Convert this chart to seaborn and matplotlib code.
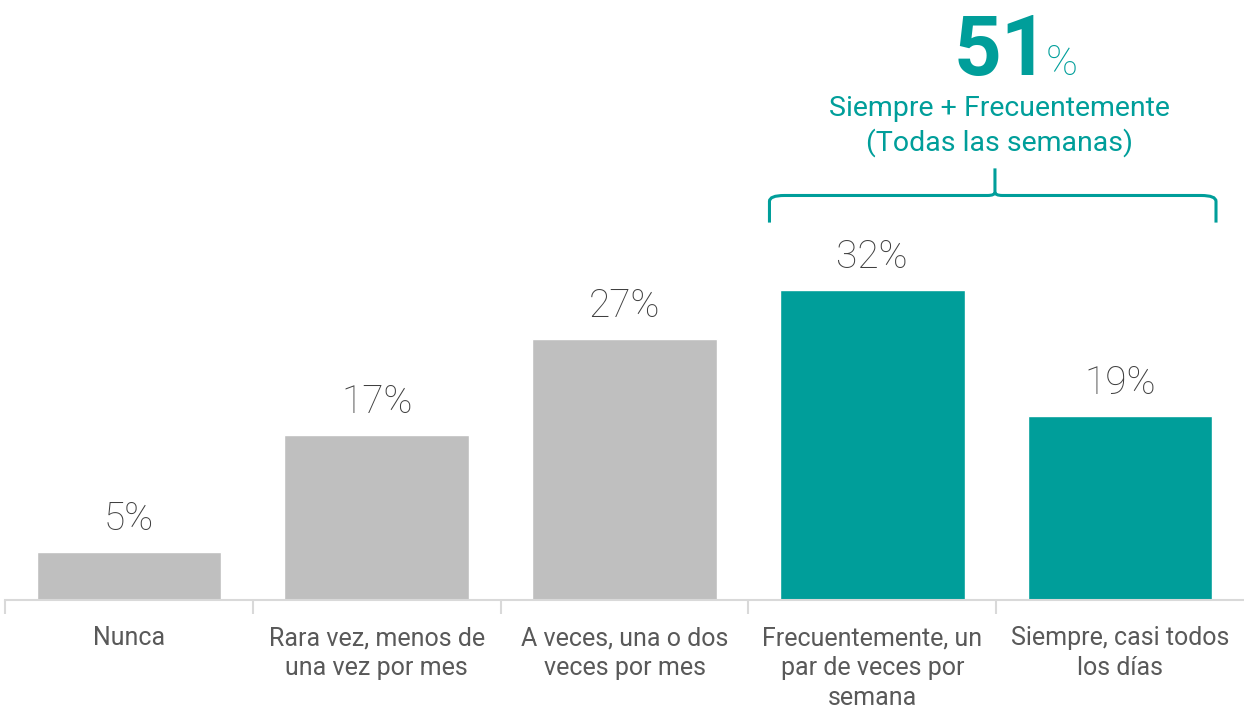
import matplotlib
matplotlib.use("Agg")
import matplotlib.pyplot as plt
import seaborn as sns
import pandas as pd
from matplotlib.path import Path
from matplotlib.patches import PathPatch

# data
categories = ["Nunca",
              "Rara vez, menos de\nuna vez por mes",
              "A veces, una o dos\nveces por mes",
              "Frecuentemente, un\npar de veces por\nsemana",
              "Siempre, casi todos\nlos días"]
values = [5, 17, 27, 32, 19]
groups = ["otro", "otro", "otro", "semanal", "semanal"]
total_label = "51"
note_lines = "Siempre + Frecuentemente\n(Todas las semanas)"

GREY = "#BFBFBF"
TEAL = "#009E9A"
TXT = "#404040"

sns.set_theme(style="white")
plt.rcParams['font.family'] = ['Roboto', 'DejaVu Sans']

df = pd.DataFrame({"cat": categories, "val": values, "grp": groups})

fig = plt.figure(figsize=(12.44, 7.12), dpi=100)
ax = fig.add_axes([5/1244, 112/712, 1239/1244, 600/712])
sns.barplot(data=df, x="cat", y="val", hue="grp", dodge=False, legend=False,
            palette={"otro": GREY, "semanal": TEAL}, width=0.745,
            saturation=1, ax=ax)

for i, v in enumerate(values):
    ax.text(i, v + 1.45, f"{v}%", ha="center", va="bottom",
            fontsize=28, color=TXT, fontweight="light")

ax.set_xlim(-0.5, 4.5)
ax.set_ylim(0, 62)
ax.set_xlabel("")
ax.set_ylabel("")
ax.set_yticks([])
for s in ["top", "right", "left"]:
    ax.spines[s].set_visible(False)
ax.spines["bottom"].set_color("#D9D9D9")
ax.spines["bottom"].set_linewidth(1.5)

ax.set_xticks(range(len(categories)))
ax.set_xticklabels(categories, fontsize=18, color="#595959", linespacing=1.3)
ax.tick_params(axis="x", which="major", length=0, pad=19)
ax.set_xticks([-0.5, 0.5, 1.5, 2.5, 3.5], minor=True)
ax.tick_params(axis="x", which="minor", bottom=True, length=10, width=1.5,
               color="#D9D9D9")

# bracket over weekly bars
xl, xr, xm = 2.585, 4.387, 3.495
yh, yb, yt = 41.8, 39.0, 44.6
r = 0.6
verts = [(xl, yb), (xl, yh - r), (xl, yh), (xl + 0.06, yh),
         (xm - 0.03, yh), (xm, yh), (xm, yh + r * 0.6), (xm, yt)]
codes = [Path.MOVETO, Path.LINETO, Path.CURVE3, Path.CURVE3,
         Path.LINETO, Path.CURVE3, Path.CURVE3, Path.LINETO]
ax.add_patch(PathPatch(Path(verts, codes), fill=False, edgecolor=TEAL, lw=2.2,
                       clip_on=False, capstyle="butt"))
verts = [(xr, yb), (xr, yh - r), (xr, yh), (xr - 0.06, yh),
         (xm + 0.03, yh), (xm, yh), (xm, yh + r * 0.6)]
codes = [Path.MOVETO, Path.LINETO, Path.CURVE3, Path.CURVE3,
         Path.LINETO, Path.CURVE3, Path.CURVE3]
ax.add_patch(PathPatch(Path(verts, codes), fill=False, edgecolor=TEAL, lw=2.2,
                       clip_on=False, capstyle="butt"))

ax.text(3.712, 54.3, total_label, ha="right", va="baseline", fontsize=60,
        fontweight="bold", color=TEAL)
ax.text(3.70, 54.3, "%", ha="left", va="baseline", fontsize=31,
        fontweight="light", color=TEAL)
ax.text(3.515, 46.4, note_lines, ha="center", va="baseline", fontsize=20.5,
        color=TEAL, linespacing=1.3)

fig.savefig("out.png", dpi=100)
